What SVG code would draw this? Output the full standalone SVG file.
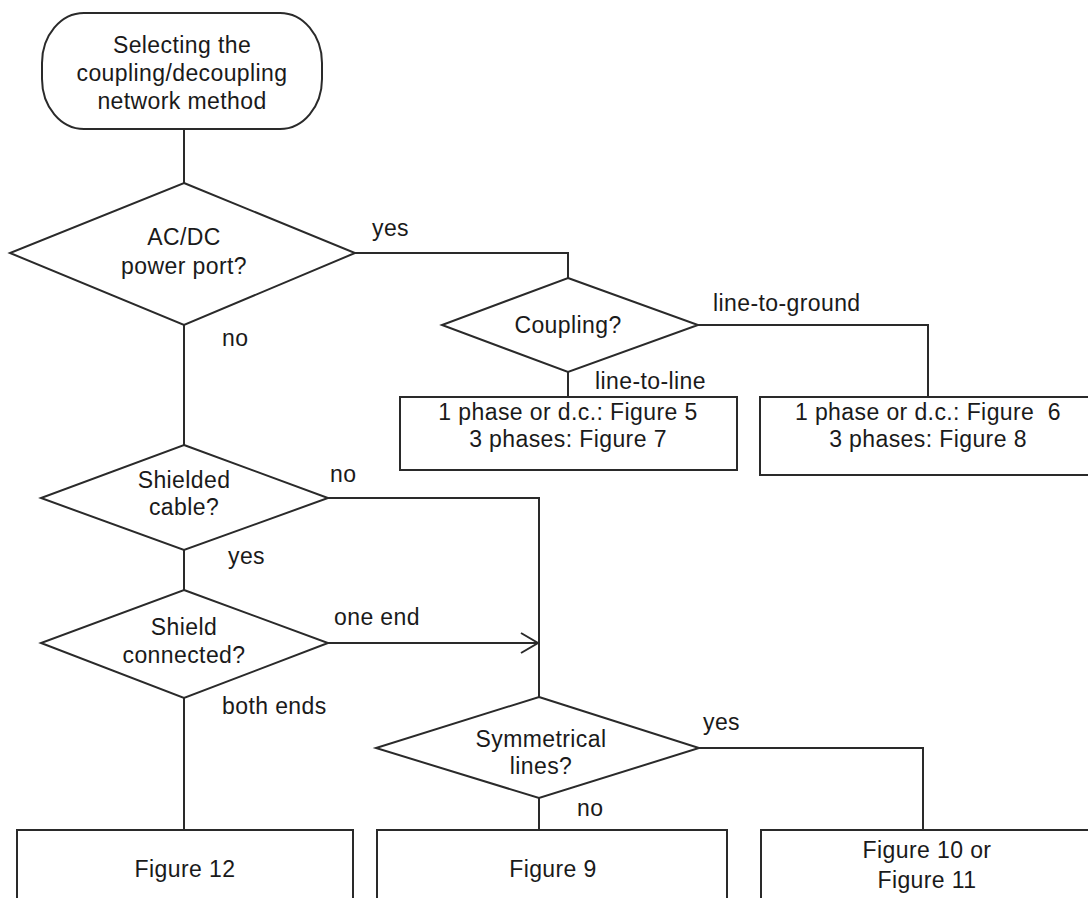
<svg xmlns="http://www.w3.org/2000/svg" width="1088" height="898" viewBox="0 0 1088 898">
<style>
.s{fill:#fff;stroke:#2a2a2a;stroke-width:2}
.c{fill:none;stroke:#2a2a2a;stroke-width:2}
text{font-family:"Liberation Sans",Arial,sans-serif;font-size:23px;letter-spacing:0.4px;fill:#1a1a1a}
.m{text-anchor:middle}
</style>
<defs>
<marker id="open" viewBox="0 0 20 24" refX="18" refY="12" markerWidth="20" markerHeight="24" markerUnits="userSpaceOnUse" orient="auto">
<path d="M1,2 L18,12 L1,22" fill="none" stroke="#2a2a2a" stroke-width="2"/>
</marker>
</defs>
<rect width="1088" height="898" fill="#fff"/>
<g id="connectors">
<path class="c" d="M184,129 V183"/>
<path class="c" d="M355,253 H568 V278"/>
<path class="c" d="M698,325 H928 V397"/>
<path class="c" d="M568,372 V397"/>
<path class="c" d="M184,325 V445"/>
<path class="c" d="M328,498 H539 V697"/>
<path class="c" d="M184,550 V590"/>
<path class="c" d="M328,643 H538" marker-end="url(#open)"/>
<path class="c" d="M184,698 V830"/>
<path class="c" d="M699,748 H923 V830"/>
<path class="c" d="M539,798 V830"/>
<text x="372" y="236">yes</text>
<text x="222" y="346">no</text>
<text x="713" y="311">line-to-ground</text>
<text x="595" y="389">line-to-line</text>
<text x="330" y="482">no</text>
<text x="228" y="564">yes</text>
<text x="334" y="625">one end</text>
<text x="222" y="714">both ends</text>
<text x="703" y="730">yes</text>
<text x="577" y="816">no</text>
</g>
<g id="start">
<rect class="s" x="42" y="13" width="280" height="116" rx="42" ry="50"/>
<text class="m" x="182" y="53">Selecting the</text>
<text class="m" x="182" y="81">coupling/decoupling</text>
<text class="m" x="182" y="109">network method</text>
</g>
<g id="acdc">
<polygon class="s" points="184,183 355,253 184,325 10,253"/>
<text class="m" x="184" y="245">AC/DC</text>
<text class="m" x="184" y="274">power port?</text>
</g>
<g id="coupling">
<polygon class="s" points="568,278 698,325 568,372 442,325"/>
<text class="m" x="568" y="333">Coupling?</text>
</g>
<g id="box-l2l">
<rect class="s" x="400" y="397" width="337" height="73"/>
<text class="m" x="568" y="420">1 phase or d.c.: Figure 5</text>
<text class="m" x="568" y="447">3 phases: Figure 7</text>
</g>
<g id="box-l2g">
<rect class="s" x="760" y="397" width="340" height="78"/>
<text class="m" x="928" y="420" xml:space="preserve">1 phase or d.c.: Figure  6</text>
<text class="m" x="928" y="447">3 phases: Figure 8</text>
</g>
<g id="shielded">
<polygon class="s" points="184,445 328,498 184,550 41,498"/>
<text class="m" x="184" y="488">Shielded</text>
<text class="m" x="184" y="515">cable?</text>
</g>
<g id="shield-connected">
<polygon class="s" points="184,590 328,643 184,698 41,643"/>
<text class="m" x="184" y="635">Shield</text>
<text class="m" x="184" y="663">connected?</text>
</g>
<g id="symmetrical">
<polygon class="s" points="539,697 699,748 539,798 376,748"/>
<text class="m" x="541" y="747">Symmetrical</text>
<text class="m" x="541" y="774">lines?</text>
</g>
<g id="fig12">
<rect class="s" x="17" y="830" width="336" height="80"/>
<text class="m" x="185" y="877">Figure 12</text>
</g>
<g id="fig9">
<rect class="s" x="377" y="830" width="350" height="80"/>
<text class="m" x="553" y="877">Figure 9</text>
</g>
<g id="fig10-11">
<rect class="s" x="761" y="830" width="340" height="80"/>
<text class="m" x="927" y="858">Figure 10 or</text>
<text class="m" x="927" y="888">Figure 11</text>
</g>
</svg>
